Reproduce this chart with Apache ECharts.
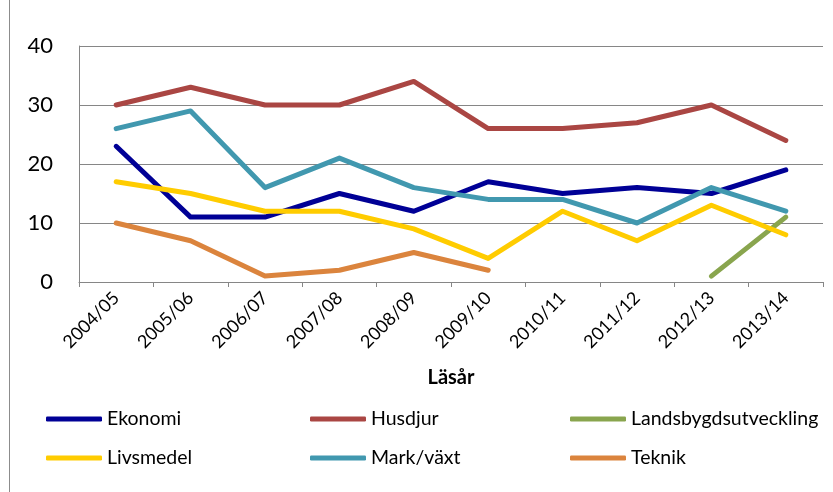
<!DOCTYPE html>
<html>
<head>
<meta charset="utf-8">
<script src="https://cdn.jsdelivr.net/npm/echarts@6/dist/echarts.min.js"></script>
<style>
  html, body { margin: 0; padding: 0; background: #fff; }
  #chart { width: 833px; height: 492px; }
</style>
</head>
<body>
<div id="chart"></div>
<script>
// categories (läsår)
const years = ['2004/05', '2005/06', '2006/07', '2007/08', '2008/09',
               '2009/10', '2010/11', '2011/12', '2012/13', '2013/14'];

// series values
const ekonomi   = [23, 11, 11, 15, 12, 17, 15, 16, 15, 19];
const husdjur   = [30, 33, 30, 30, 34, 26, 26, 27, 30, 24];
const landsbygd = [null, null, null, null, null, null, null, null, 1, 11];
const livsmedel = [17, 15, 12, 12, 9, 4, 12, 7, 13, 8];
const markVaxt  = [26, 29, 16, 21, 16, 14, 14, 10, 16, 12];
const teknik    = [10, 7, 1, 2, 5, 2, null, null, null, null];

const yTicks = [0, 10, 20, 30, 40];

const font = 'Lato, "Open Sans", sans-serif';

function line(name, data, color) {
    return {
        name: name,
        type: 'line',
        data: data,
        symbol: 'none',
        showSymbol: false,
        connectNulls: false,
        lineStyle: { width: 5, color: color, cap: 'round', join: 'round' },
        itemStyle: { color: color }
    };
}

const chart = echarts.init(document.getElementById('chart'));

const legendBase = {
    orient: 'vertical',
    top: 407,
    padding: 0,
    icon: 'roundRect',
    itemWidth: 56,
    itemHeight: 5,
    itemGap: 15,
    textStyle: { fontFamily: font, fontSize: 19.5, color: '#000', lineHeight: 24 },
    inactiveColor: '#ccc'
};

chart.setOption({
    animation: false,
    grid: { left: 79, right: 10, top: 46, bottom: 210, containLabel: false },
    graphic: [{
        type: 'line',
        shape: { x1: 9.5, y1: 0, x2: 9.5, y2: 492 },
        style: { stroke: '#8c8c8c', lineWidth: 1 }
    }],
    legend: [
        Object.assign({}, legendBase, { left: 46, data: ['Ekonomi', 'Livsmedel'] }),
        Object.assign({}, legendBase, { left: 310, data: ['Husdjur', 'Mark/växt'] }),
        Object.assign({}, legendBase, { left: 570, data: ['Landsbygdsutveckling', 'Teknik'] })
    ],
    xAxis: {
        type: 'category',
        data: years,
        boundaryGap: true,
        name: 'Läsår',
        nameLocation: 'middle',
        nameGap: 86,
        nameTextStyle: { fontFamily: font, fontSize: 20, fontWeight: 'bold', color: '#000' },
        axisLine: { lineStyle: { color: '#868686', width: 1 } },
        axisTick: { show: true, length: 5, lineStyle: { color: '#868686' } },
        axisLabel: {
            rotate: 45,
            margin: 13,
            fontFamily: font,
            fontSize: 18,
            color: '#000'
        },
        splitLine: { show: false }
    },
    yAxis: {
        type: 'value',
        min: yTicks[0],
        max: yTicks[yTicks.length - 1],
        interval: 10,
        axisLine: { show: true, lineStyle: { color: '#868686', width: 1 } },
        axisTick: { show: false },
        axisLabel: { fontFamily: font, fontSize: 22, color: '#000', margin: 26 },
        splitLine: { lineStyle: { color: '#868686', width: 1 } }
    },
    series: [
        line('Ekonomi', ekonomi, '#000096'),
        line('Husdjur', husdjur, '#AA4643'),
        line('Landsbygdsutveckling', landsbygd, '#89A54E'),
        line('Livsmedel', livsmedel, '#FFCC00'),
        line('Mark/växt', markVaxt, '#4198AF'),
        line('Teknik', teknik, '#DB843D')
    ]
});
</script>
</body>
</html>
